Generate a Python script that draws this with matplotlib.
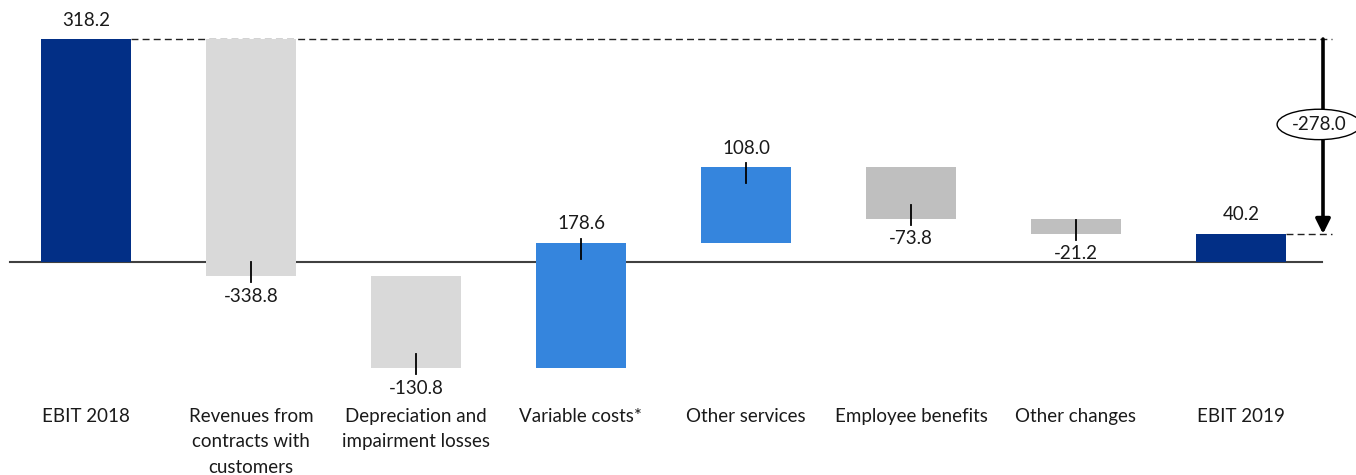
import matplotlib
matplotlib.use("Agg")
import matplotlib.pyplot as plt

plt.rcParams['font.family'] = ['Lato', 'DejaVu Sans']

# EBIT bridge 2018 -> 2019 (EUR million)
categories = ["EBIT 2018", "Revenues from\ncontracts with\ncustomers",
              "Depreciation and\nimpairment losses", "Variable costs*",
              "Other services", "Employee benefits", "Other changes", "EBIT 2019"]
values = [318.2, -338.8, -130.8, 178.6, 108.0, -73.8, -21.2, 40.2]
is_total = [True, False, False, False, False, False, False, True]
bar_colors = ["#022F86", "#D9D9D9", "#D9D9D9", "#3585DD",
              "#3585DD", "#BFBFBF", "#BFBFBF", "#022F86"]

W, H = 1356, 475
fig = plt.figure(figsize=(W / 100, H / 100), dpi=100)
ax = fig.add_axes([0, 0, 1, 1])
ax.set_xlim(-0.521, 7.697)
ax.set_ylim(-303.9, 373.9)
ax.axis('off')

px = (373.9 + 303.9) / H     # value units per pixel
pxx = (7.697 + 0.521) / W    # category units per pixel
txt = '#1a1a1a'

# waterfall bars
running = 0.0
bottoms, tops = [], []
for i, v in enumerate(values):
    if is_total[i]:
        lo, hi = 0.0, v
        running = v
    else:
        lo, hi = sorted([running, running + v])
        running += v
    bottoms.append(lo)
    tops.append(hi)
    ax.bar(i, hi - lo, bottom=lo, width=0.55, color=bar_colors[i], zorder=2)

# value labels with small leader ticks
for i, v in enumerate(values):
    if v >= 0:
        edge = tops[i]
        if not is_total[i]:
            ax.plot([i, i], [edge - 16 * px, edge + 4 * px], color='black', lw=1.3, zorder=3)
        ax.text(i, edge + 19 * px, f"{v:.1f}", ha='center', va='center', fontsize=13.5, color=txt)
    else:
        edge = bottoms[i]
        ax.plot([i, i], [edge + 14 * px, edge - 6 * px], color='black', lw=1.3, zorder=3)
        ax.text(i, edge - 20 * px, f"{v:.1f}", ha='center', va='center', fontsize=13.5, color=txt)

# baseline
ax.plot([-0.46, 7.49], [0, 0], color='#404040', lw=1.5, zorder=1)

# category labels
for i, c in enumerate(categories):
    ax.text(i, -146 * px, c, ha='center', va='top',
            fontsize=13.5, color=txt, linespacing=1.6)

# dashed reference lines and total change arrow
arrow_x = 7.497
x_end = arrow_x + 9 * pxx
ax.plot([0.275, x_end], [values[0], values[0]], color='#222222', lw=1, ls=(0, (5, 3)), zorder=1)
ax.plot([7.275, x_end], [values[-1], values[-1]], color='#222222', lw=1, ls=(0, (5, 3)), zorder=1)
ax.annotate("", xy=(arrow_x, values[-1]), xytext=(arrow_x, values[0]),
            arrowprops=dict(arrowstyle='-|>', lw=2.6, mutation_scale=22, color='black',
                            shrinkA=0, shrinkB=0))
delta = values[-1] - values[0]
ax.text(arrow_x - 4 * pxx, (values[0] + values[-1]) / 2 + 12 * px, f"{delta:.1f}",
        ha='center', va='center', fontsize=13.5, color=txt, zorder=5,
        bbox=dict(boxstyle='ellipse,pad=0.12', fc='white', ec='black', lw=1))

fig.savefig("out.png", dpi=100)
